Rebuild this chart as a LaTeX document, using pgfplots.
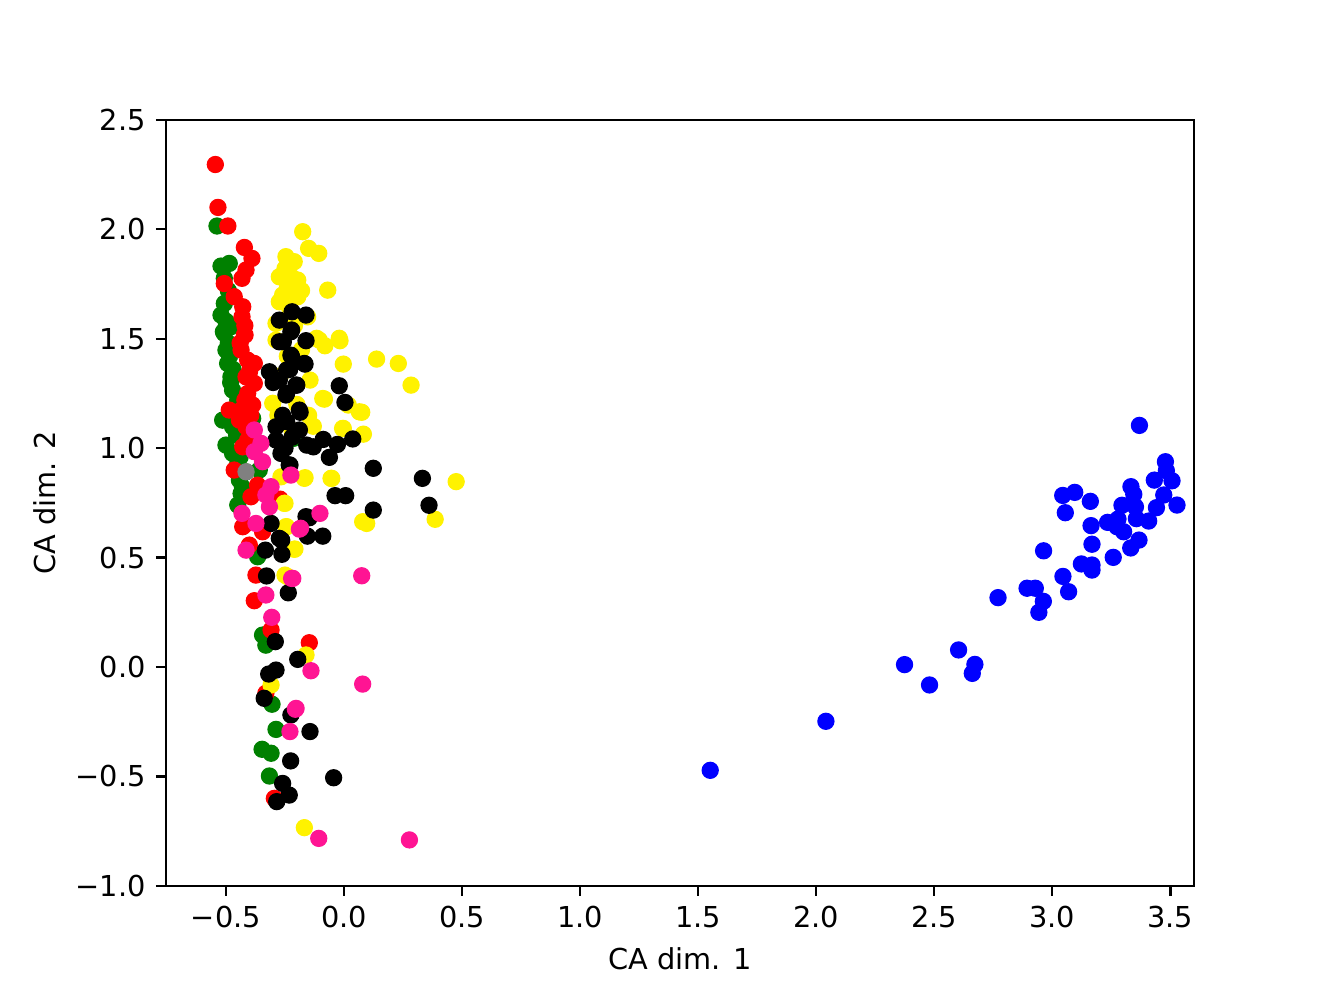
\documentclass[border=0pt]{standalone}
\usepackage{pgfplots}
\pgfplotsset{compat=1.18}
\usepackage{fontspec}
\setmainfont{DejaVu Sans}
\definecolor{mgreen}{rgb}{0,0.5,0}
\definecolor{mpink}{rgb}{1,0.078,0.576}
\definecolor{mgray}{rgb}{0.5,0.5,0.5}
\begin{document}
\fontsize{10}{12}\selectfont
\begin{tikzpicture}
\begin{axis}[name=ax,
  scale only axis, width=356.7pt, height=265.8pt,
  xmin=-0.754, xmax=3.60, ymin=-1, ymax=2.5,
  xtick={-0.5,0,0.5,1,1.5,2,2.5,3,3.5},
  xticklabels={−0.5,0.0,0.5,1.0,1.5,2.0,2.5,3.0,3.5},
  ytick={-1,-0.5,0,0.5,1,1.5,2,2.5},
  yticklabels={−1.0,−0.5,0.0,0.5,1.0,1.5,2.0,2.5},
  tick align=outside, xtick pos=left, ytick pos=left,
  major tick length=3.5pt,
  tick style={black, line width=0.8pt},
  axis line style={line width=0.8pt},
  ticklabel style={font=\fontsize{10}{12}\selectfont},
  xlabel={CA dim. 1}, ylabel={CA dim. 2},
  label style={font=\fontsize{10}{12}\selectfont},
  every axis plot/.append style={only marks, mark=*, mark size=2.8pt},
]
% green
\addplot[mgreen, mark options={draw=mgreen, fill=mgreen}] coordinates {
(-0.538,2.015)(-0.521,1.832)(-0.486,1.844)(-0.507,1.776)(-0.507,1.661)(-0.521,1.608)
(-0.511,1.532)(-0.479,1.555)(-0.507,1.524)(-0.500,1.448)(-0.493,1.387)(-0.479,1.326)
(-0.472,1.265)(-0.450,1.220)(-0.514,1.128)(-0.472,1.098)(-0.500,1.014)(-0.472,0.976)
(-0.450,0.930)(-0.387,1.136)(-0.443,0.854)(-0.436,0.793)(-0.450,0.740)(-0.415,0.892)
(-0.359,0.900)(-0.217,1.045)(-0.215,1.045)(-0.490,1.720)(-0.500,1.580)(-0.490,1.480)
(-0.485,1.420)(-0.470,1.360)(-0.480,1.300)(-0.465,1.180)(-0.455,1.060)(-0.440,0.960)
(-0.401,0.542)(-0.366,0.504)(-0.345,0.146)(-0.331,0.100)(-0.305,-0.170)
(-0.288,-0.285)(-0.347,-0.376)(-0.309,-0.394)(-0.316,-0.498)(-0.430,0.820)
};
% red
\addplot[red, mark options={draw=red, fill=red}] coordinates {
(-0.545,2.296)(-0.534,2.100)(-0.492,2.015)(-0.422,1.917)(-0.390,1.867)(-0.415,1.814)
(-0.432,1.776)(-0.465,1.692)(-0.429,1.646)(-0.432,1.600)(-0.419,1.517)(-0.507,1.752)
(-0.422,1.517)(-0.436,1.448)(-0.408,1.402)(-0.380,1.387)(-0.415,1.326)(-0.380,1.296)
(-0.408,1.250)(-0.387,1.197)(-0.436,1.174)(-0.486,1.174)(-0.443,1.128)(-0.415,1.098)
(-0.408,1.037)(-0.429,1.006)(-0.465,0.900)(-0.366,0.831)(-0.394,0.778)(-0.274,0.763)
(-0.422,0.649)(-0.271,0.767)(-0.429,0.641)(-0.345,0.618)(-0.401,0.557)(-0.373,0.420)
(-0.380,0.303)(-0.309,0.169)(-0.147,0.111)(-0.331,-0.120)(-0.295,-0.600)
(-0.420,1.560)(-0.440,1.480)(-0.400,1.350)(-0.420,1.220)(-0.395,1.150)
};
% yellow
\addplot[yellow, mark options={draw=yellow, fill=yellow}] coordinates {
(-0.175,1.989)(-0.150,1.913)(-0.107,1.890)(-0.246,1.875)(-0.211,1.852)(-0.274,1.783)
(-0.196,1.768)(-0.239,1.737)(-0.069,1.722)(-0.274,1.669)(-0.196,1.692)(-0.288,1.570)
(-0.154,1.600)(-0.020,1.502)(-0.017,1.491)(-0.003,1.384)(0.138,1.407)(0.230,1.387)
(0.284,1.288)(-0.144,1.311)(-0.081,1.468)(-0.116,1.502)(-0.083,1.224)(0.075,1.164)
(0.018,1.197)(-0.003,1.090)(0.082,1.064)(-0.052,0.862)(-0.165,0.865)(0.475,0.847)
(0.386,0.675)(0.096,0.656)(-0.208,0.539)(-0.250,0.748)(-0.243,0.641)(-0.250,0.420)
(-0.288,1.494)(-0.105,1.494)(-0.090,1.227)(0.065,1.166)(-0.302,1.205)(-0.006,1.090)
(-0.168,0.862)(-0.055,0.862)(-0.253,0.748)(0.079,0.664)(-0.267,0.869)
(-0.246,0.641)(-0.211,0.538)(-0.239,0.413)(-0.161,0.055)(-0.309,-0.082)(-0.168,-0.734)
(-0.250,1.820)(-0.220,1.780)(-0.180,1.720)(-0.230,1.640)(-0.260,1.700)(-0.210,1.560)
(-0.180,1.450)(-0.240,1.420)(-0.270,1.330)(-0.200,1.200)(-0.150,1.150)(-0.280,1.150)
(-0.220,1.080)(-0.130,1.100)
};
% black
\addplot[black, mark options={draw=black, fill=black}] coordinates {
(-0.274,1.585)(-0.220,1.623)(-0.161,1.608)(-0.225,1.532)(-0.222,1.540)(-0.161,1.491)
(-0.257,1.486)(-0.222,1.418)(-0.165,1.384)(-0.243,1.357)(-0.200,1.288)(-0.243,1.250)
(-0.020,1.285)(0.004,1.209)(-0.186,1.164)(-0.088,1.040)(-0.028,1.017)(0.037,1.042)
(-0.062,0.958)(-0.158,1.014)(-0.130,1.006)(0.124,0.908)(0.332,0.862)(0.360,0.739)
(-0.038,0.783)(0.007,0.783)(0.124,0.717)(-0.147,0.682)(-0.155,0.598)(-0.090,0.598)
(-0.236,0.339)(-0.243,1.121)(-0.229,0.923)(-0.264,0.580)(-0.274,1.486)(-0.225,1.425)
(-0.168,1.387)(-0.316,1.349)(-0.274,1.311)(-0.203,1.288)(-0.246,1.243)(-0.189,1.174)
(-0.288,1.098)(-0.189,1.083)(-0.288,1.037)(-0.267,0.976)(-0.232,0.923)(-0.161,0.687)
(-0.309,0.656)(-0.274,0.588)(-0.333,0.534)(-0.263,0.515)(-0.328,0.416)(-0.291,0.116)
(-0.196,0.035)(-0.319,-0.032)(-0.288,-0.014)(-0.338,-0.143)(-0.225,-0.219)
(-0.144,-0.295)(-0.226,-0.429)(-0.044,-0.506)(-0.260,-0.532)(-0.232,-0.585)(-0.285,-0.615)
(-0.260,1.150)(-0.220,1.050)(-0.250,1.000)(-0.300,1.300)(-0.230,1.360)
};
% pink
\addplot[mpink, mark options={draw=mpink, fill=mpink}] coordinates {
(-0.225,0.877)(-0.102,0.702)(-0.184,0.634)(-0.222,0.405)(0.075,0.417)
(-0.380,1.083)(-0.352,1.022)(-0.380,0.984)(-0.345,0.938)(-0.309,0.824)(-0.331,0.786)
(-0.316,0.732)(-0.432,0.702)(-0.373,0.656)(-0.189,0.630)(-0.217,0.405)
(-0.331,0.329)(-0.306,0.227)(-0.140,-0.017)(0.079,-0.078)(-0.203,-0.189)(-0.415,0.534)
(-0.206,-0.193)(-0.229,-0.295)(-0.107,-0.783)(0.277,-0.790)
};
% blue
\addplot[blue, mark options={draw=blue, fill=blue}] coordinates {
(3.369,1.104)(3.479,0.938)(3.483,0.897)(3.432,0.854)(3.507,0.851)(3.333,0.824)
(3.345,0.789)(3.044,0.784)(3.095,0.798)(3.472,0.786)(3.161,0.757)(3.295,0.739)
(3.352,0.732)(3.528,0.740)(3.441,0.728)(3.055,0.705)(3.234,0.661)(3.278,0.676)
(3.356,0.678)(3.408,0.667)(3.164,0.646)(3.302,0.618)(3.274,0.641)(3.367,0.580)
(3.332,0.544)(3.168,0.561)(2.963,0.531)(3.258,0.501)(3.123,0.471)(3.168,0.443)
(3.168,0.466)(3.045,0.414)(3.069,0.344)(2.893,0.360)(2.928,0.360)(2.962,0.300)
(2.943,0.250)(2.770,0.317)(2.603,0.078)(2.672,0.012)(2.661,-0.029)(2.374,0.011)
(2.480,-0.082)(2.041,-0.248)(1.551,-0.472)
};
% gray
\addplot[mgray, mark options={draw=mgray, fill=mgray}] coordinates {(-0.415,0.892)};
\end{axis}
\pgfresetboundingbox
\path (ax.south west) ++(-57.6pt,-38.2pt) coordinate (bbl);
\path (ax.north east) ++(46.5pt,41.6pt) coordinate (btr);
\useasboundingbox (bbl) rectangle (btr);
\end{tikzpicture}
\end{document}
